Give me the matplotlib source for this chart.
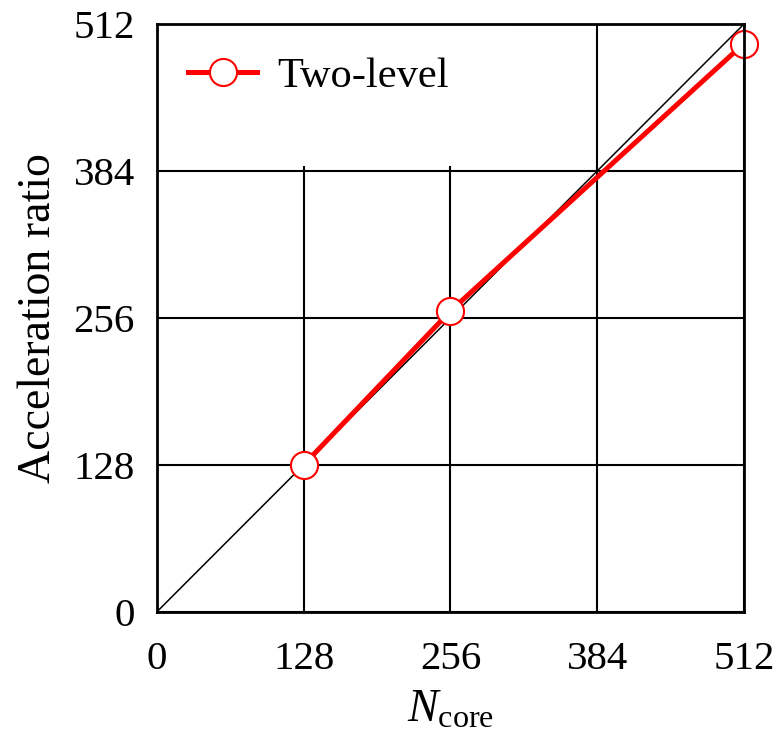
import matplotlib
matplotlib.use('Agg')
import matplotlib.pyplot as plt
from matplotlib.patches import Rectangle

plt.rcParams['font.family'] = ['Liberation Serif', 'DejaVu Serif']
plt.rcParams['mathtext.fontset'] = 'custom'
plt.rcParams['mathtext.rm'] = 'Liberation Serif'
plt.rcParams['mathtext.it'] = 'Liberation Serif:italic'

# data
n_core = [128, 256, 512]
accel = [128, 262, 495]
ideal = [0, 512]
ticks = [0, 128, 256, 384, 512]

fig = plt.figure(figsize=(7.78, 7.52), dpi=100)
ax = fig.add_axes([157 / 778, 1 - 611.7 / 752, 587 / 778, 587.7 / 752])

ax.plot(ideal, ideal, color='black', lw=1.1, zorder=2)
ax.plot(n_core, accel, color='red', lw=3.6, marker='o', ms=19.5,
        mfc='white', mec='red', mew=1.5, label='Two-level',
        clip_on=False, zorder=3)

ax.set_xlim(0, 512)
ax.set_ylim(0, 512)
ax.set_xticks(ticks)
ax.set_yticks(ticks)
ax.tick_params(length=0, labelsize=29.5)
ax.tick_params(axis='x', pad=21)
ax.tick_params(axis='y', pad=16)

ax.set_axisbelow(True)
ax.grid(True, color='black', lw=1.5)
for s in ax.spines.values():
    s.set_linewidth(2.0)
    s.set_zorder(4)

# white legend background hides the upper part of the grid
ax.add_patch(Rectangle((0, 388 / 512), 0.6, 1 - 388 / 512, transform=ax.transAxes,
                       facecolor='white', edgecolor='none', zorder=1.2))

ax.legend(loc='center left', bbox_to_anchor=(0.053, 0.911), frameon=False,
          fontsize=30.5, borderpad=0, borderaxespad=0, handlelength=1.63,
          handletextpad=0.47)

ax.set_xlabel(r'$N_{\mathrm{core}}$', fontsize=33, labelpad=8)
ax.set_ylabel('Acceleration ratio', fontsize=33, labelpad=10)

fig.savefig('out.png', dpi=100)
